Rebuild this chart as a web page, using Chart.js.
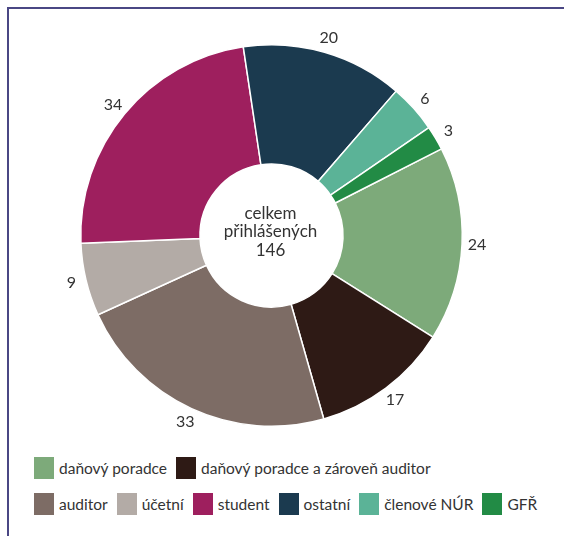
<!DOCTYPE html>
<html lang="cs">
<head>
<meta charset="UTF-8">
<title>Přihlášení podle kategorií</title>
<script src="https://cdn.jsdelivr.net/npm/chart.js"></script>
<style>
    body {
        margin: 0;
        width: 564px;
        height: 536px;
        background: #fff;
        font-family: 'Lato', sans-serif;
        position: relative;
        overflow: hidden;
    }
    .frame {
        position: absolute;
        left: 7px;
        top: 7px;
        width: 600px;
        height: 600px;
        border-top: 2px solid #4a4784;
        border-left: 2px solid #4a4784;
    }
    .chart-box {
        position: absolute;
        left: 0;
        top: 0;
        width: 564px;
        height: 440px;
    }
    .legend {
        position: absolute;
        left: 34px;
        top: 457px;
        color: #333;
        font-size: 15.5px;
    }
    .legend-row {
        display: flex;
        align-items: center;
        height: 22px;
        margin-bottom: 14px;
    }
    .legend-item {
        display: flex;
        align-items: center;
        margin-right: 9px;
        white-space: nowrap;
    }
    .legend-item span {
        display: inline-block;
        width: 20px;
        height: 22px;
        margin-right: 5px;
    }
</style>
</head>
<body>
    <div class="frame"></div>
    <div class="chart-box">
        <canvas id="kategorie"></canvas>
    </div>
    <div class="legend" id="legenda"></div>
<script>
    // data
    const kategorie = ['daňový poradce', 'daňový poradce a zároveň auditor', 'auditor', 'účetní', 'student', 'ostatní', 'členové NÚR', 'GFŘ'];
    const pocty = [24, 17, 33, 9, 34, 20, 6, 3];
    const barvy = ['#7daa7a', '#2e1a15', '#7d6c65', '#b3aba6', '#9e1f5e', '#1b3a4f', '#5bb397', '#228b45'];
    const stredText = ['celkem', 'přihlášených', '146'];
    const legendaZlom = 2; // first legend row has two items

    // popisky hodnot vně výsečí
    const popisky = {
        id: 'popisky',
        afterDatasetsDraw(chart) {
            const ctx = chart.ctx;
            ctx.save();
            ctx.font = '16px Lato';
            ctx.fillStyle = '#333';
            ctx.textAlign = 'center';
            ctx.textBaseline = 'middle';
            chart.getDatasetMeta(0).data.forEach((arc, i) => {
                const p = arc.getProps(['x', 'y', 'startAngle', 'endAngle', 'outerRadius'], true);
                const mid = (p.startAngle + p.endAngle) / 2;
                const r = p.outerRadius + 15;
                ctx.fillText(String(pocty[i]), p.x + Math.cos(mid) * r, p.y + Math.sin(mid) * r);
            });
            ctx.restore();
        }
    };

    // text uprostřed
    const stred = {
        id: 'stred',
        afterDatasetsDraw(chart) {
            const ctx = chart.ctx;
            const arc = chart.getDatasetMeta(0).data[0];
            ctx.save();
            ctx.font = '17px Lato';
            ctx.fillStyle = '#333';
            ctx.textAlign = 'center';
            ctx.textBaseline = 'middle';
            stredText.forEach((t, i) => {
                ctx.fillText(t, arc.x - 1, arc.y - 22 + i * 18.5);
            });
            ctx.restore();
        }
    };

    new Chart(document.getElementById('kategorie'), {
        type: 'doughnut',
        data: {
            labels: kategorie,
            datasets: [{
                data: pocty,
                backgroundColor: barvy,
                borderColor: '#fff',
                borderWidth: 1.5
            }]
        },
        options: {
            responsive: true,
            maintainAspectRatio: false,
            animation: false,
            rotation: 63,
            cutout: '37.5%',
            layout: {
                padding: { left: 80, right: 101, top: 44, bottom: 13 }
            },
            plugins: {
                legend: { display: false },
                tooltip: { enabled: false }
            }
        },
        plugins: [popisky, stred]
    });

    // legenda
    const legenda = document.getElementById('legenda');
    [kategorie.slice(0, legendaZlom), kategorie.slice(legendaZlom)].forEach((radek, r) => {
        const row = document.createElement('div');
        row.className = 'legend-row';
        radek.forEach((nazev, j) => {
            const idx = r === 0 ? j : legendaZlom + j;
            const item = document.createElement('div');
            item.className = 'legend-item';
            item.innerHTML = '<span style="background:' + barvy[idx] + '"></span>' + nazev;
            row.appendChild(item);
        });
        legenda.appendChild(row);
    });
</script>
</body>
</html>
